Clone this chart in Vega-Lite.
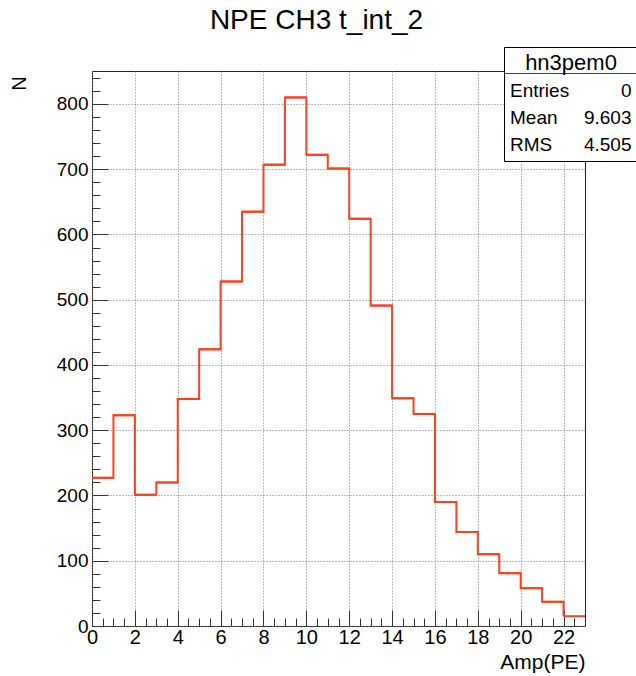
{
  "$schema": "https://vega.github.io/schema/vega-lite/v6.json",
  "width": 493,
  "height": 555,
  "autosize": {"type": "none"},
  "padding": {"left": 92, "top": 71, "right": 51, "bottom": 50},
  "background": "white",
  "config": {
    "font": "Liberation Sans",
    "view": {"stroke": "#222", "strokeWidth": 1},
    "axis": {"domain": false, "labelFont": "Liberation Sans", "titleFont": "Liberation Sans", "labelColor": "#000", "titleColor": "#000", "tickColor": "#333", "tickWidth": 1}
  },
  "title": {
    "text": "NPE CH3 t_int_2",
    "fontSize": 28,
    "font": "Liberation Sans",
    "fontWeight": "normal",
    "color": "#000",
    "anchor": "middle",
    "frame": "group",
    "dx": -22,
    "baseline": "alphabetic",
    "offset": -50
  },
  "datasets": {
    "hist": [
      {"lo": 0, "hi": 1, "n": 227},
      {"lo": 1, "hi": 2, "n": 323},
      {"lo": 2, "hi": 3, "n": 201},
      {"lo": 3, "hi": 4, "n": 220},
      {"lo": 4, "hi": 5, "n": 348},
      {"lo": 5, "hi": 6, "n": 424},
      {"lo": 6, "hi": 7, "n": 528},
      {"lo": 7, "hi": 8, "n": 635},
      {"lo": 8, "hi": 9, "n": 707},
      {"lo": 9, "hi": 10, "n": 810},
      {"lo": 10, "hi": 11, "n": 722},
      {"lo": 11, "hi": 12, "n": 701},
      {"lo": 12, "hi": 13, "n": 624},
      {"lo": 13, "hi": 14, "n": 491},
      {"lo": 14, "hi": 15, "n": 349},
      {"lo": 15, "hi": 16, "n": 325},
      {"lo": 16, "hi": 17, "n": 190},
      {"lo": 17, "hi": 18, "n": 144},
      {"lo": 18, "hi": 19, "n": 110},
      {"lo": 19, "hi": 20, "n": 81},
      {"lo": 20, "hi": 21, "n": 58},
      {"lo": 21, "hi": 22, "n": 37},
      {"lo": 22, "hi": 23, "n": 15}
    ],
    "stats": [
      {"name": "Entries", "value": "0"},
      {"name": "Mean", "value": "9.603"},
      {"name": "RMS", "value": "4.505"}
    ],
    "sep": [{"k": "line"}]
  },
  "layer": [
    {
      "data": {"name": "hist"},
      "mark": {"type": "line", "interpolate": "step-after", "color": "#fb4023", "strokeWidth": 2},
      "encoding": {
        "x": {
          "field": "lo", "type": "quantitative",
          "scale": {"domain": [0, 23], "nice": false, "zero": false},
          "axis": {
            "orient": "bottom",
            "values": [0, 2, 4, 6, 8, 10, 12, 14, 16, 18, 20, 22],
            "tickSize": -16,
            "labelFontSize": 20,
            "labelPadding": 17,
            "labelFlush": false,
            "labelOverlap": false,
            "labelBound": false,
            "grid": true,
            "gridDash": [1, 2],
            "gridColor": "#777",
            "title": "Amp(PE)",
            "titleFontSize": 21,
            "titleFontWeight": "normal",
            "titleX": 493,
            "titleY": 36,
            "titleAlign": "right",
            "titleBaseline": "middle"
          }
        },
        "y": {
          "field": "n", "type": "quantitative",
          "scale": {"domain": [0, 850.5], "nice": false},
          "axis": {
            "orient": "left",
            "values": [0, 100, 200, 300, 400, 500, 600, 700, 800],
            "tickSize": -16,
            "labelFontSize": 19,
            "labelPadding": 20,
            "labelOverlap": false,
            "labelBound": false,
            "labelFlush": false,
            "grid": true,
            "gridDash": [1, 2],
            "gridColor": "#777",
            "title": "N",
            "titleFontSize": 20,
            "titleFontWeight": "normal",
            "titleAngle": 270,
            "titleX": -73,
            "titleY": 12,
            "titleAlign": "center",
            "titleBaseline": "middle"
          }
        }
      }
    },
    {
      "data": {"name": "hist"},
      "mark": {"type": "rule", "color": "#fb4023", "strokeWidth": 2},
      "encoding": {
        "x": {
          "field": "lo", "type": "quantitative",
          "scale": {"domain": [0, 23], "nice": false, "zero": false},
          "axis": {
            "orient": "bottom",
            "values": [0.5, 1, 1.5, 2.5, 3, 3.5, 4.5, 5, 5.5, 6.5, 7, 7.5, 8.5, 9, 9.5, 10.5, 11, 11.5, 12.5, 13, 13.5, 14.5, 15, 15.5, 16.5, 17, 17.5, 18.5, 19, 19.5, 20.5, 21, 21.5, 22.5],
            "tickSize": -8,
            "labels": false,
            "grid": false,
            "title": null
          }
        },
        "x2": {"field": "hi"},
        "y": {
          "field": "n", "type": "quantitative",
          "scale": {"domain": [0, 850.5], "nice": false},
          "axis": {
            "orient": "left",
            "values": [20, 40, 60, 80, 120, 140, 160, 180, 220, 240, 260, 280, 320, 340, 360, 380, 420, 440, 460, 480, 520, 540, 560, 580, 620, 640, 660, 680, 720, 740, 760, 780, 820, 840],
            "tickSize": -8,
            "labels": false,
            "grid": false,
            "title": null
          }
        }
      }
    },
    {
      "data": {"name": "stats"},
      "mark": {"type": "point", "opacity": 0, "color": "#000"},
      "encoding": {
        "color": {
          "field": "value", "type": "nominal", "sort": null,
          "legend": {
            "orient": "none", "legendX": 412, "legendY": -24,
            "padding": 6, "fillColor": "white", "strokeColor": "#000",
            "title": "hn3pem0", "titleFontSize": 22, "titleFont": "Liberation Sans", "titleFontWeight": "normal",
            "titleColor": "#000", "titleAnchor": "middle", "titlePadding": 6,
            "labelAlign": "right", "labelOffset": 102.5, "labelFontSize": 19, "labelFont": "Liberation Sans", "labelColor": "#000",
            "symbolSize": 0, "symbolOpacity": 0, "symbolStrokeWidth": 0, "rowPadding": 7, "direction": "vertical", "zindex": 1
          }
        },
        "shape": {
          "field": "name", "type": "nominal", "sort": null,
          "legend": {
            "orient": "none", "legendX": 399, "legendY": 10,
            "padding": 0, "title": null,
            "labelAlign": "left", "labelOffset": 0, "labelFontSize": 19, "labelFont": "Liberation Sans", "labelColor": "#000",
            "symbolSize": 0, "symbolOpacity": 0, "symbolStrokeWidth": 0, "rowPadding": 7, "direction": "vertical", "zindex": 2
          }
        }
      }
    },
    {
      "data": {"name": "sep"},
      "mark": {"type": "point", "opacity": 0, "color": "#000"},
      "encoding": {
        "strokeDash": {
          "field": "k", "type": "nominal",
          "legend": {
            "orient": "none", "legendX": 412, "legendY": -64,
            "padding": 0, "title": null,
            "symbolType": "stroke", "symbolSize": 17424, "symbolStrokeColor": "#000", "symbolStrokeWidth": 1, "symbolOpacity": 1,
            "labelExpr": "''", "labelOffset": 0, "zindex": 2
          }
        }
      }
    }
  ],
  "resolve": {"axis": {"x": "independent", "y": "independent"}}
}
